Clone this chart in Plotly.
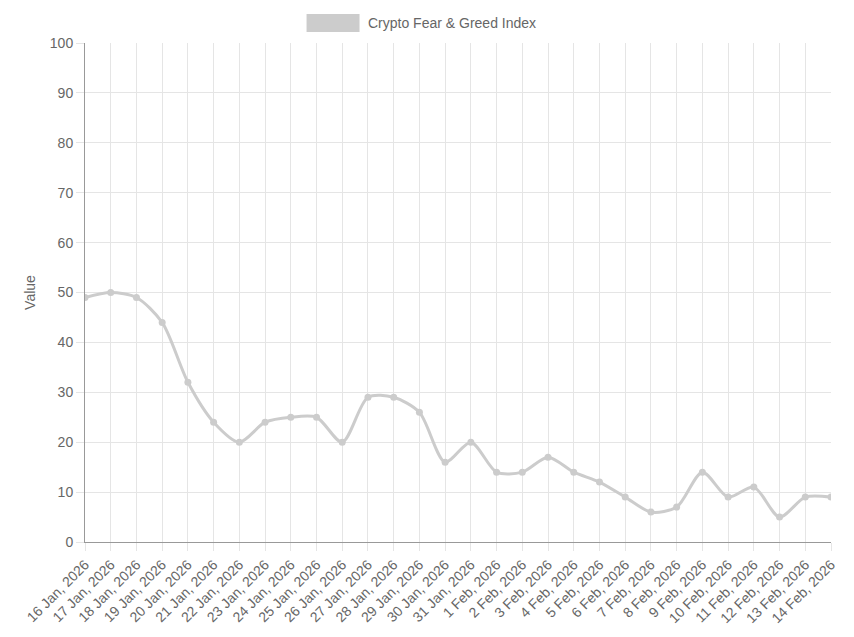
import plotly.graph_objects as go

dates = ["16 Jan, 2026","17 Jan, 2026","18 Jan, 2026","19 Jan, 2026","20 Jan, 2026","21 Jan, 2026","22 Jan, 2026","23 Jan, 2026","24 Jan, 2026","25 Jan, 2026","26 Jan, 2026","27 Jan, 2026","28 Jan, 2026","29 Jan, 2026","30 Jan, 2026","31 Jan, 2026","1 Feb, 2026","2 Feb, 2026","3 Feb, 2026","4 Feb, 2026","5 Feb, 2026","6 Feb, 2026","7 Feb, 2026","8 Feb, 2026","9 Feb, 2026","10 Feb, 2026","11 Feb, 2026","12 Feb, 2026","13 Feb, 2026","14 Feb, 2026"]
values = [49,50,49,44,32,24,20,24,25,25,20,29,29,26,16,20,14,14,17,14,12,9,6,7,14,9,11,5,9,9]

fig = go.Figure()
fig.add_trace(go.Scatter(x=dates, y=values, mode="lines+markers",
    line=dict(color="#cccccc", width=3, shape="spline", smoothing=0.8),
    marker=dict(color="#cccccc", size=7), name="Crypto Fear & Greed Index",
    showlegend=False))
fig.add_shape(type="rect", xref="paper", yref="paper", x0=0.297, x1=0.368, y0=1.022, y1=1.058,
    fillcolor="#cccccc", line=dict(width=0))
fig.add_annotation(text="Crypto Fear & Greed Index", xref="paper", yref="paper", x=0.377, y=1.040,
    showarrow=False, xanchor="left", yanchor="middle", font=dict(size=14, color="#666666"))

grid = "#e5e5e5"
fig.update_layout(
    width=854, height=637, plot_bgcolor="white", paper_bgcolor="white",
    margin=dict(l=77, r=31, t=35, b=103, autoexpand=False),
    font=dict(family="Arial, Liberation Sans", color="#666666", size=14),
    xaxis=dict(tickangle=-45, showgrid=True, gridcolor=grid, showline=True, linecolor="#999999",
               ticks="outside", tickcolor=grid, ticklen=8, range=[0, 29], automargin=False,
               tickfont=dict(size=14)),
    yaxis=dict(range=[0, 100], dtick=10, showgrid=True, gridcolor=grid, showline=True, linecolor="#999999",
               ticks="outside", tickcolor=grid, ticklen=8, zeroline=False, automargin=False,
               title=dict(text="Value", font=dict(size=14, color="#666666"), standoff=10)),
)
fig.write_html("out.html")
